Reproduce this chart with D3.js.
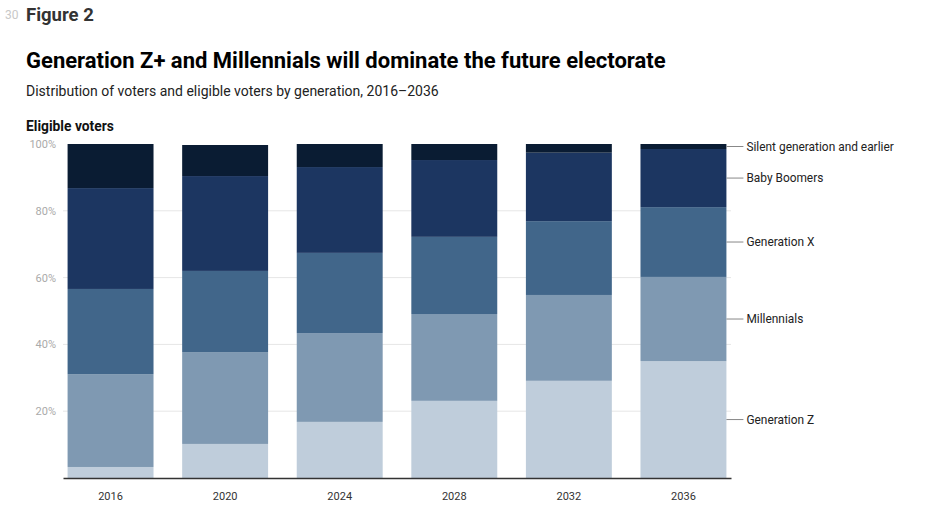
<!DOCTYPE html>
<html>
<head>
<meta charset="utf-8">
<script src="https://cdn.jsdelivr.net/npm/d3@7"></script>
<style>
  html, body { margin: 0; padding: 0; background: #fff; }
  svg { display: block; font-family: Roboto, "Noto Sans", sans-serif; }
</style>
</head>
<body>
<svg id="chart" width="935" height="513"></svg>
<script>
const years = ["2016", "2020", "2024", "2028", "2032", "2036"];
const generations = ["Generation Z", "Millennials", "Generation X", "Baby Boomers", "Silent generation and earlier"];
const genZ       = [3.3, 10.2, 16.8, 23.1, 29.1, 35.0];
const millennials = [27.8, 27.5, 26.6, 26.0, 25.7, 25.2];
const genX       = [25.5, 24.3, 24.0, 23.1, 22.1, 20.9];
const boomers    = [30.2, 28.4, 25.7, 23.0, 20.5, 17.4];
const silent     = [13.2, 9.3, 6.9, 4.8, 2.6, 1.5];
const yTicks = [20, 40, 60, 80, 100];
const colors = ["#bfcddb", "#7f99b2", "#41668a", "#1c3661", "#0a1c33"];

const seriesValues = [genZ, millennials, genX, boomers, silent];
const table = years.map((y, i) => {
  const row = { year: y };
  generations.forEach((g, k) => row[g] = seriesValues[k][i]);
  return row;
});

const svg = d3.select("#chart");
const x0 = 63, x1 = 731, yTop = 144, yBottom = 478;

const x = d3.scaleBand().domain(years).range([x0, x1]).paddingInner(0.25).paddingOuter(0.04);
const y = d3.scaleLinear().domain([0, 100]).range([yBottom, yTop]);
const color = d3.scaleOrdinal().domain(generations).range(colors);

// Header texts
svg.append("text").attr("x", 5).attr("y", 19).attr("font-size", 12).attr("fill", "#c8c8c8").text("30");
svg.append("text").attr("x", 26).attr("y", 21).attr("font-size", 18.5).attr("font-weight", 700).attr("fill", "#333").text("Figure 2");
svg.append("text").attr("x", 26).attr("y", 68).attr("font-size", 22).attr("font-weight", 700).attr("fill", "#000")
  .text("Generation Z+ and Millennials will dominate the future electorate");
svg.append("text").attr("x", 26).attr("y", 96).attr("font-size", 14).attr("fill", "#222")
  .text("Distribution of voters and eligible voters by generation, 2016\u20132036");
svg.append("text").attr("x", 26).attr("y", 131).attr("font-size", 13.8).attr("font-weight", 700).attr("fill", "#111")
  .text("Eligible voters");

// Gridlines
svg.append("g").selectAll("line").data(yTicks.filter(t => t < 100)).join("line")
  .attr("x1", x0).attr("x2", x1)
  .attr("y1", d => y(d)).attr("y2", d => y(d))
  .attr("stroke", "#e6e6e6").attr("stroke-width", 1);

// Y axis labels
const yAxis = d3.axisLeft(y).tickValues(yTicks).tickSize(0).tickPadding(0).tickFormat(d => d + "%");
const yg = svg.append("g").attr("transform", `translate(${56},0)`).call(yAxis);
yg.select(".domain").remove();
yg.selectAll("text").attr("font-size", 11).attr("fill", "#aaa").attr("font-family", "Roboto, sans-serif");

// Stacked bars
const stack = d3.stack().keys(generations);
const stacked = stack(table);
svg.append("g").selectAll("g").data(stacked).join("g")
  .attr("fill", d => color(d.key))
  .selectAll("rect").data(d => d).join("rect")
  .attr("x", d => x(d.data.year))
  .attr("width", x.bandwidth())
  .attr("y", d => y(d[1]))
  .attr("height", d => y(d[0]) - y(d[1]));

// X axis
const xAxis = d3.axisBottom(x).tickSize(0).tickPadding(14);
const xg = svg.append("g").attr("transform", `translate(0,${yBottom})`).call(xAxis);
xg.select(".domain").attr("stroke", "#333").attr("stroke-width", 1.5);
xg.selectAll("text").attr("font-size", 11).attr("fill", "#333").attr("font-family", "Roboto, sans-serif");

// Series labels at right of last bar
const lastIdx = years.length - 1;
const lastX = x(years[lastIdx]) + x.bandwidth();
const labels = svg.append("g");
stacked.forEach(s => {
  const d = s[lastIdx];
  const ym = y((d[0] + d[1]) / 2);
  labels.append("line").attr("x1", lastX).attr("x2", lastX + 17).attr("y1", ym).attr("y2", ym)
    .attr("stroke", "#888").attr("stroke-width", 1);
  labels.append("text").attr("x", lastX + 20).attr("y", ym).attr("dy", "0.35em")
    .attr("font-size", 11.9).attr("fill", "#222").text(s.key);
});
</script>
</body>
</html>
